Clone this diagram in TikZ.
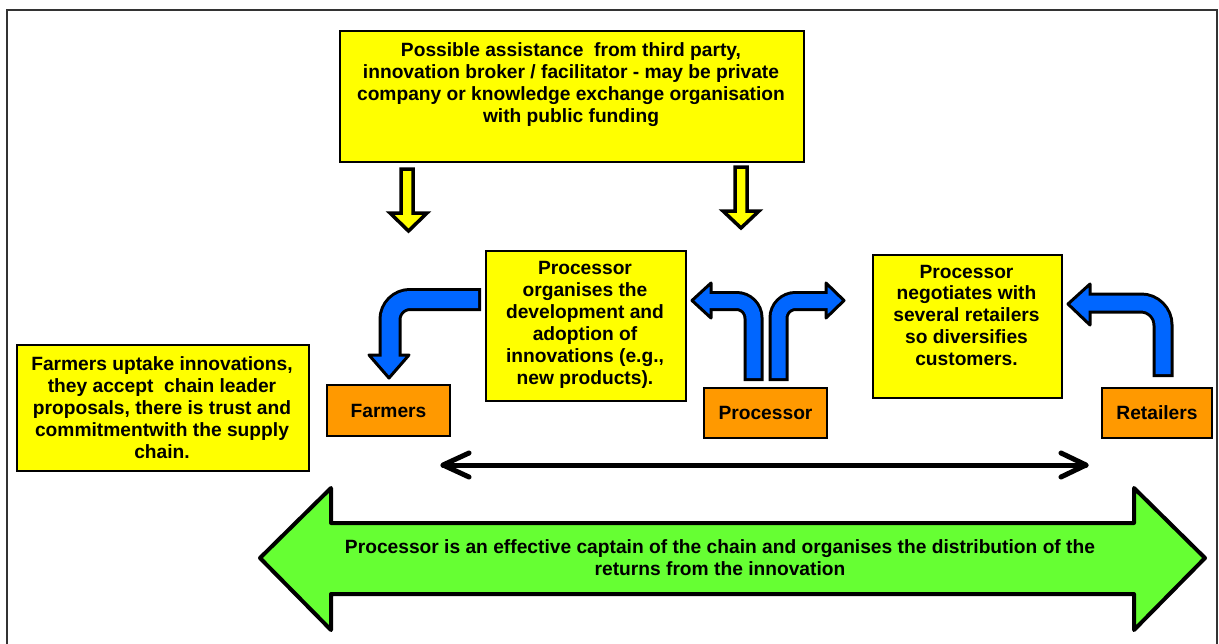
\documentclass[tikz,border=0pt]{standalone}
\usepackage{fontspec}
\setmainfont{Liberation Sans}
\usetikzlibrary{calc}
\definecolor{yboxc}{RGB}{255,255,0}
\definecolor{oboxc}{RGB}{255,153,0}
\definecolor{barrow}{RGB}{0,102,255}
\definecolor{garrow}{RGB}{102,255,51}
\begin{document}
\begin{tikzpicture}[x=1pt,y=-1pt,
  txt/.style={font=\fontsize{19.2}{21.9}\selectfont\bfseries, align=center, inner sep=0pt, text=black},
  ybox/.style={draw=black, line width=2pt, fill=yboxc, anchor=north west, inner sep=0pt},
  obox/.style={draw=black, line width=2pt, fill=oboxc, inner sep=0pt, font=\fontsize{19.2}{21.9}\selectfont\bfseries},
  blk/.style={draw=black, line width=3.5pt, line join=round},
  bhead/.style={fill=barrow, draw=black, line width=3pt, line join=round},
]
\useasboundingbox (0,0) rectangle (1219,643);
% frame
\draw[line width=1.5pt, black!80] (7,650) -- (7,10) -- (1217,10) -- (1217,650);

% yellow boxes
\node[ybox, minimum width=464pt, minimum height=131pt] (topbox) at (339,30) {};
\node[txt, anchor=north] (toptext) at (571,42.3) {Possible assistance\ \ from third party,\\innovation broker / facilitator - may be private\\company or knowledge exchange organisation\\with public funding};

\node[ybox, minimum width=200pt, minimum height=150pt] (midbox) at (485,250) {};
\node[txt, anchor=north] (midtext) at (585,261.3) {Processor\\organises the\\development and\\adoption of\\innovations (e.g.,\\new products).};

\node[ybox, minimum width=189pt, minimum height=143pt] (rbox) at (872,254) {};
\node[txt, anchor=north] (rtext) at (966.5,264.6) {Processor\\negotiates with\\several retailers\\so diversifies\\customers.};

\node[ybox, minimum width=292pt, minimum height=126pt] (lbox) at (16,344) {};
\node[txt, anchor=north] (ltext) at (162,356.3) {Farmers uptake innovations,\\they accept\ \ chain leader\\proposals, there is trust and\\commitmentwith the supply\\chain.};

% orange boxes
\node[obox, minimum width=123pt, minimum height=51pt] (farmers) at (388.5,410.5) {Farmers};
\node[obox, minimum width=123pt, minimum height=50pt] (processor) at (765.5,413) {Processor};
\node[obox, minimum width=110pt, minimum height=50pt] (retailers) at (1157,413) {Retailers};

% yellow down arrows
\draw[blk, fill=yboxc, line join=miter] (401,169) -- (413,169) -- (413,213) -- (427,213) -- (408.5,231) -- (390,213) -- (401,213) -- cycle;
\draw[blk, fill=yboxc, line join=miter] (735,167) -- (747,167) -- (747,211) -- (759,211) -- (741,228) -- (723,211) -- (735,211) -- cycle;

% blue bent arrows
% farmers
\draw[line width=23pt, black, rounded corners=20pt] (481,299.5) -- (390,299.5) -- (390,356);
\draw[bhead] (369,355) -- (409,355) -- (389,378) -- cycle;
\draw[line width=17pt, barrow, rounded corners=20pt] (478,299.5) -- (390,299.5) -- (390,361);
% processor left
\draw[line width=20pt, black, rounded corners=17pt] (753.5,381) -- (753.5,301) -- (711,301);
\draw[bhead] (711,283) -- (711,318) -- (692,300.5) -- cycle;
\draw[line width=14pt, barrow, rounded corners=17pt] (753.5,378) -- (753.5,301) -- (706,301);
% processor right
\draw[line width=20pt, black, rounded corners=17pt] (778.5,381) -- (778.5,301) -- (826,301);
\draw[bhead] (826,283) -- (826,318) -- (844,300.5) -- cycle;
\draw[line width=14pt, barrow, rounded corners=17pt] (778.5,378) -- (778.5,301) -- (831,301);
% retailers
\draw[line width=21pt, black, rounded corners=22pt] (1163,377) -- (1163,303) -- (1090,303);
\draw[bhead] (1090,284) -- (1090,325) -- (1068,304) -- cycle;
\draw[line width=15pt, barrow, rounded corners=22pt] (1163,374) -- (1163,303) -- (1085,303);

% black double arrow
\coordinate (la) at (443,465);
\coordinate (ra) at (1086,465);
\draw[line width=5pt, line cap=round, line join=round] (la) -- (ra);
\draw[line width=5pt, line cap=round, line join=round] ($(la)+(26,-12)$) -- (la) -- ($(la)+(26,12)$);
\draw[line width=5pt, line cap=round, line join=round] ($(ra)+(-25,-12)$) -- (ra) -- ($(ra)+(-25,12)$);

% green double block arrow
\draw[line width=4pt, line join=round, fill=garrow, draw=black] (260,558) -- (331,488) -- (331,523) -- (1134,523) -- (1134,488) -- (1205,558) -- (1134,630) -- (1134,594) -- (331,594) -- (331,630) -- cycle;
\node[txt, anchor=north] (gtext) at (720,539) {Processor is an effective captain of the chain and organises the distribution of the\\returns from the innovation};
\end{tikzpicture}
\end{document}
